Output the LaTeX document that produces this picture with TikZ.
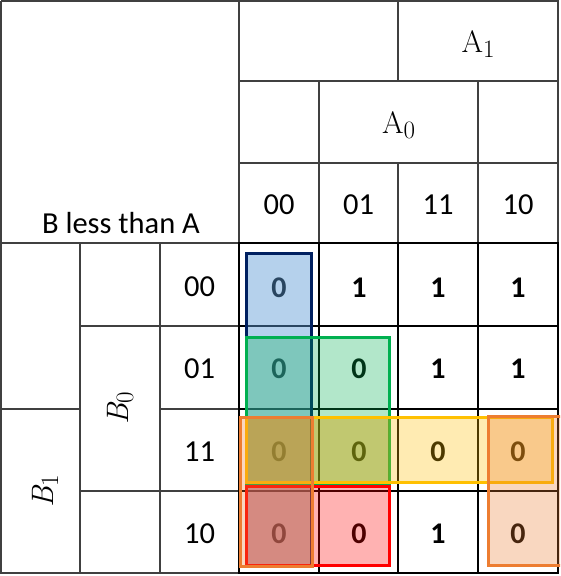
\documentclass[tikz,border=0pt]{standalone}
\usepackage{fontspec}
\setmainfont{Carlito}
\newfontfamily\lmr{Latin Modern Roman}
\newcommand{\subtxt}[1]{\raisebox{-5pt}{\fontsize{25}{27}\selectfont #1}}
\begin{document}
\begin{tikzpicture}[x=1pt,y=-1pt,
  hdr/.style={draw=black!75,line width=1.2pt},
  grid/.style={draw=black,line width=2pt},
  lbl/.style={font=\fontsize{30.5}{34}\selectfont,inner sep=0pt},
  mlbl/.style={font=\lmr\fontsize{31}{34}\selectfont,inner sep=0pt},
  val/.style={font=\fontsize{30}{34}\selectfont\bfseries,inner sep=0pt},
  loop/.style={line width=3pt}]
\useasboundingbox (0,0) rectangle (560,576);
\clip (0,0) rectangle (560,576);
\fill[white] (0,0) rectangle (560,576);
% header lines
\draw[hdr] (1,1) -- (558,1) -- (558,243);
\draw[hdr] (1,1) -- (1,573) -- (239,573);
\draw[hdr] (239,1) -- (239,243);
\draw[hdr] (398,1) -- (398,81);
\draw[hdr] (239,81) -- (558,81);
\draw[hdr] (239,163) -- (558,163);
\draw[hdr] (319,81) -- (319,243);
\draw[hdr] (478,81) -- (478,243);
\draw[hdr] (398,163) -- (398,243);
\draw[hdr] (1,243) -- (239,243);
\draw[hdr] (80,243) -- (80,573);
\draw[hdr] (160,243) -- (160,573);
\draw[hdr] (1,409) -- (80,409);
\draw[hdr] (80,326) -- (239,326);
\draw[hdr] (80,491) -- (239,491);
\draw[hdr] (160,409) -- (239,409);
% data grid
\draw[grid] (239,243) rectangle (558,573);
\foreach \x in {319,398,478} \draw[grid] (\x,243) -- (\x,573);
\foreach \y in {326,409,491} \draw[grid] (239,\y) -- (558,\y);
% header texts
\node[lbl,anchor=base] (title) at (121,233) {B less than A};
\node[mlbl,anchor=base] (a1) at (478,52) {A\subtxt{1}};
\node[mlbl,anchor=base] (a0) at (398.5,133) {A\subtxt{0}};
\node[lbl] (c00) at (279,205) {00};
\node[lbl] (c01) at (358.5,205) {01};
\node[lbl] (c11) at (438,205) {11};
\node[lbl] (c10) at (518,205) {10};
\node[mlbl,rotate=90,anchor=base] (b0) at (128,408.5) {\itshape B\upshape\subtxt{0}};
\node[mlbl,rotate=90,anchor=base] (b1) at (53,491) {\itshape B\upshape\subtxt{1}};
\node[lbl] (r00) at (199.5,287) {00};
\node[lbl] (r01) at (199.5,369) {01};
\node[lbl] (r11) at (199.5,452) {11};
\node[lbl] (r10) at (199.5,534) {10};
% values
\node[val] (v11) at (279,288) {0};
\node[val] (v12) at (359,288) {1};
\node[val] (v13) at (438,288) {1};
\node[val] (v14) at (518,288) {1};
\node[val] (v21) at (279,369) {0};
\node[val] (v22) at (359,369) {0};
\node[val] (v23) at (438,369) {1};
\node[val] (v24) at (518,369) {1};
\node[val] (v31) at (279,452) {0};
\node[val] (v32) at (359,452) {0};
\node[val] (v33) at (438,452) {0};
\node[val] (v34) at (518,452) {0};
\node[val] (v41) at (279,534) {0};
\node[val] (v42) at (359,534) {0};
\node[val] (v43) at (438,534) {1};
\node[val] (v44) at (518,534) {0};
% loops
\definecolor{navy}{HTML}{002060}
\definecolor{lblue}{HTML}{5B9BD5}
\definecolor{kgreen}{HTML}{00B050}
\definecolor{kgold}{HTML}{FFC000}
\definecolor{korange}{HTML}{ED7D31}
\definecolor{kred}{HTML}{FF0000}
\definecolor{kolive}{HTML}{7F6000}
\filldraw[loop,draw=navy,fill=lblue,fill opacity=0.45] (246,253) rectangle (311,565);
\filldraw[loop,draw=kgreen,fill=kgreen,fill opacity=0.3] (246,337) rectangle (389,485);
\filldraw[loop,draw=kred,fill=kred,fill opacity=0.3] (246,486) rectangle (389,565);
\fill[kolive,opacity=0.2] (246,417) rectangle (389,482);
\filldraw[loop,draw=kgold,fill=kgold,fill opacity=0.3] (246,417) rectangle (552,482);
\filldraw[loop,draw=korange,fill=korange,fill opacity=0.3] (240,417) rectangle (312,566);
\filldraw[loop,draw=korange,fill=korange,fill opacity=0.3] (488,416) rectangle (566,565);
\end{tikzpicture}
\end{document}
